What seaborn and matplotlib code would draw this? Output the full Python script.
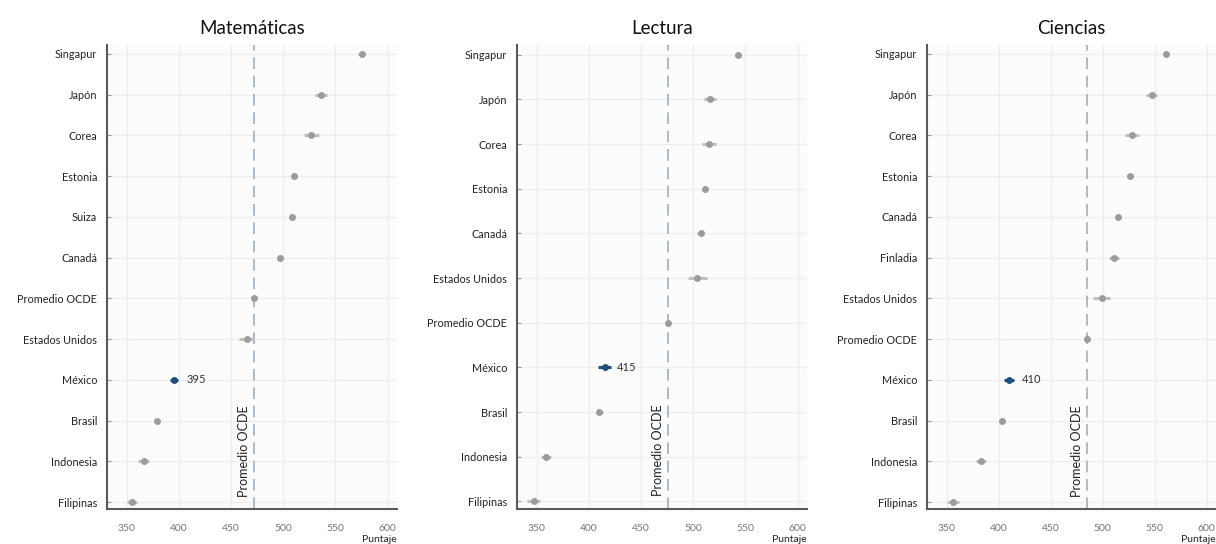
import numpy as np
import pandas as pd
import matplotlib
matplotlib.use("Agg")
import matplotlib.pyplot as plt
import seaborn as sns

# ---------------- data ----------------
mat_countries = ["Singapur", "Japón", "Corea", "Estonia", "Suiza", "Canadá", "Promedio OCDE",
                 "Estados Unidos", "México", "Brasil", "Indonesia", "Filipinas"]
mat_scores = [575, 536, 527, 510, 508, 497, 472, 465, 395, 379, 366, 355]
mat_err = [3, 6, 7, 3, 3, 3, 0, 7, 4, 3, 5, 5]
mat_ocde = 472

lec_countries = ["Singapur", "Japón", "Corea", "Estonia", "Canadá", "Estados Unidos",
                 "Promedio OCDE", "México", "Brasil", "Indonesia", "Filipinas"]
lec_scores = [543, 516, 515, 511, 507, 504, 476, 415, 410, 359, 347]
lec_err = [3, 6, 7, 3, 3, 9, 0, 6, 3, 5, 6]
lec_ocde = 476

cie_countries = ["Singapur", "Japón", "Corea", "Estonia", "Canadá", "Finladia", "Estados Unidos",
                 "Promedio OCDE", "México", "Brasil", "Indonesia", "Filipinas"]
cie_scores = [561, 547, 528, 526, 515, 511, 499, 485, 410, 403, 383, 356]
cie_err = [3, 5, 7, 3, 3, 5, 8, 0, 5, 3, 5, 6]
cie_ocde = 485

titles = ["Matemáticas", "Lectura", "Ciencias"]
x_ticks = [350, 400, 450, 500, 550, 600]
highlight = "México"
ocde_label = "Promedio OCDE"
x_label = "Puntaje"

# ---------------- style ----------------
sns.set_theme(style="white")
plt.rcParams["font.family"] = ["Lato", "DejaVu Sans"]

GRAY = "#9c9c9c"
ERR_GRAY = "#c0c0c0"
BLUE = "#1f4e7a"
LINE_BLUE = "#9bb0c6"

W, H = 1216, 544
fig = plt.figure(figsize=(W / 100, H / 100), dpi=100)
fig.patch.set_facecolor("white")

# axes rectangles in pixels (left, top, right, bottom)
rects = [(107, 45, 397, 509), (517, 45, 807, 509), (927, 45, 1216, 509)]


def panel(ax, countries, scores, errs, ocde, title):
    n = len(countries)
    df = pd.DataFrame({
        "pais": countries,
        "puntaje": scores,
        "grupo": [highlight if c == highlight else "otro" for c in countries],
    })
    ypos = np.arange(n)
    lo = np.array(scores) - np.array(errs)
    hi = np.array(scores) + np.array(errs)
    cols = [BLUE if c == highlight else ERR_GRAY for c in countries]
    ax.hlines(ypos, lo, hi, colors=cols, linewidth=2.2, zorder=2)

    sns.pointplot(data=df, x="puntaje", y="pais", hue="grupo", order=countries,
                  palette={"otro": GRAY, highlight: BLUE}, orient="h",
                  errorbar=None, linestyle="none", markers="o", markersize=5,
                  markeredgewidth=0, legend=False, ax=ax)

    ax.axvline(ocde, color=LINE_BLUE, linestyle=(0, (7, 4)), linewidth=1.2, zorder=1)
    ax.annotate(ocde_label, xy=(ocde, n - 1), xytext=(-3, 4), textcoords="offset points",
                rotation=90, ha="right", va="bottom", fontsize=9, color="#222222")

    mi = countries.index(highlight)
    ax.annotate(str(scores[mi]), xy=(scores[mi], mi), xytext=(9, 0),
                textcoords="offset points", ha="left", va="center",
                fontsize=8, color="#333333")

    ax.set_xlim(331, 609)
    ax.set_ylim(n - 1 + 0.17, -0.22)
    ax.set_xticks(x_ticks)
    ax.set_xticklabels([str(t) for t in x_ticks])
    ax.set_facecolor("#fcfcfc")
    ax.grid(True, color="#eeeeee", linewidth=1)
    ax.set_axisbelow(True)
    for s in ["top", "right"]:
        ax.spines[s].set_visible(False)
    for s in ["left", "bottom"]:
        ax.spines[s].set_visible(True)
        ax.spines[s].set_color("#5a5a5a")
        ax.spines[s].set_linewidth(1.5)
    ax.tick_params(axis="y", direction="in", length=3, width=0.8, color="#999999",
                   pad=7, labelsize=7.8, labelcolor="#222222", left=True)
    ax.tick_params(axis="x", length=0, pad=11, labelsize=7.5, labelcolor="#777777")
    ax.set_ylabel("")
    ax.set_xlabel(x_label, loc="right", fontsize=7.5, color="#222222", labelpad=1)
    ax.set_title(title, fontsize=13.5, color="#111111", pad=8)


datasets = [
    (mat_countries, mat_scores, mat_err, mat_ocde),
    (lec_countries, lec_scores, lec_err, lec_ocde),
    (cie_countries, cie_scores, cie_err, cie_ocde),
]

for (l, t, r, b), (c, s, e, o), title in zip(rects, datasets, titles):
    ax = fig.add_axes([l / W, 1 - b / H, (r - l) / W, (b - t) / H])
    panel(ax, c, s, e, o, title)

fig.savefig("out.png", dpi=100, facecolor="white")
